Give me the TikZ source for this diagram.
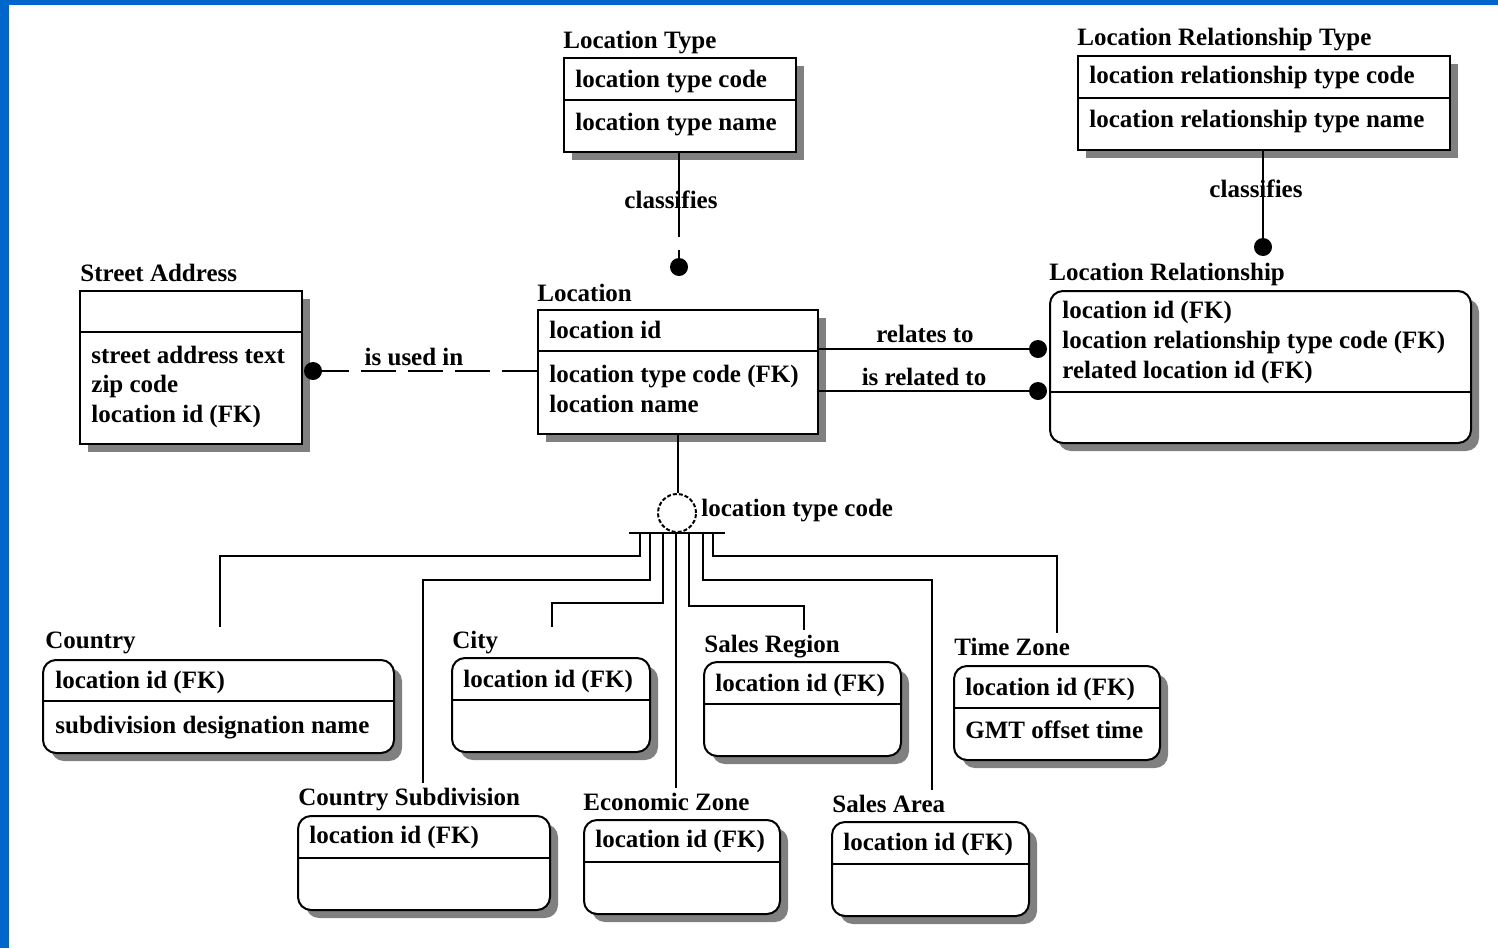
\documentclass[tikz,border=0pt]{standalone}
\usepackage{fontspec}
\setmainfont{Liberation Serif}
\usetikzlibrary{fit}
\definecolor{frameblue}{HTML}{0066CC}
\tikzset{
  erent/.style={draw, line width=1pt, fill=white, inner sep=0pt},
  ershadow/.style={fill=black!50, draw=none},
  erdiv/.style={line width=1pt},
  ertitle/.style={font=\bfseries\fontsize{12.5}{14}\selectfont, inner sep=0pt, anchor=base west},
  erattr/.style={font=\bfseries\fontsize{12.5}{14}\selectfont, inner sep=0pt, anchor=base west},
  rellabel/.style={font=\bfseries\fontsize{12.5}{14}\selectfont, inner sep=0pt, anchor=base},
  link/.style={line width=1pt},
  blob/.style={circle, fill=black, inner sep=0pt, minimum size=9pt},
}
% entity box: name, x1, y1, x2, y2, divider y, corner radius
\newcommand\erbox[7]{%
  \fill[ershadow, rounded corners=#7] ({#2+8},{#3+8}) rectangle ({#4+8},{#5+8});
  \node[erent, rounded corners=#7, fit={(#2,#3) (#4,#5)}] (#1) {};
  \draw[erdiv] (#1.west |- 0,#6) -- (#1.east |- 0,#6);
}
\begin{document}
\begin{tikzpicture}[x=0.5pt, y=-0.5pt]
% page and frame
\fill[white] (0,0) rectangle (1498,948);
\useasboundingbox (0,0) rectangle (1498,948);
\fill[frameblue] (0,0) rectangle (9,948);
\fill[frameblue] (0,0) rectangle (1498,5);

% ---------- entities ----------
% Location Type
\erbox{lt}{564}{58}{796}{152}{100}{0pt}
\node[ertitle] (tLT) at (563,48) {Location Type};
\node[erattr] (aLT1) at (575,87) {location type code};
\node[erattr] (aLT2) at (575,130) {location type name};

% Location Relationship Type
\erbox{lrt}{1078}{56}{1450}{150}{98}{0pt}
\node[ertitle] (tLRT) at (1077,45) {Location Relationship Type};
\node[erattr] (aLRT1) at (1089,83) {location relationship type code};
\node[erattr] (aLRT2) at (1089,127) {location relationship type name};

% Street Address
\erbox{sa}{80}{291}{302}{444}{332}{0pt}
\node[ertitle] (tSA) at (80,281) {Street Address};
\node[erattr] (aSA1) at (91,363) {street address text};
\node[erattr] (aSA2) at (91,392) {zip code};
\node[erattr] (aSA3) at (91,422) {location id (FK)};

% Location
\erbox{loc}{538}{310}{818}{434}{351}{0pt}
\node[ertitle] (tLoc) at (537,301) {Location};
\node[erattr] (aLoc1) at (549,338) {location id};
\node[erattr] (aLoc2) at (549,382) {location type code (FK)};
\node[erattr] (aLoc3) at (549,412) {location name};

% Location Relationship
\erbox{lr}{1050}{291}{1471}{443}{392}{6.5pt}
\node[ertitle] (tLR) at (1049,280) {Location Relationship};
\node[erattr] (aLR1) at (1062,318) {location id (FK)};
\node[erattr] (aLR2) at (1062,348) {location relationship type code (FK)};
\node[erattr] (aLR3) at (1062,378) {related location id (FK)};

% subtypes
\erbox{cty}{43}{660}{394}{753}{701}{6.5pt}
\node[ertitle] (tCty) at (45,648) {Country};
\node[erattr] (aCty1) at (55,688) {location id (FK)};
\node[erattr] (aCty2) at (55,733) {subdivision designation name};

\erbox{city}{452}{658}{650}{752}{700}{6.5pt}
\node[ertitle] (tCity) at (452,648) {City};
\node[erattr] (aCity1) at (463,687) {location id (FK)};

\erbox{sr}{704}{662}{901}{756}{704}{6.5pt}
\node[ertitle] (tSR) at (704,652) {Sales Region};
\node[erattr] (aSR1) at (715,691) {location id (FK)};

\erbox{tz}{954}{666}{1160}{760}{708}{6.5pt}
\node[ertitle] (tTZ) at (954,655) {Time Zone};
\node[erattr] (aTZ1) at (965,695) {location id (FK)};
\node[erattr] (aTZ2) at (965,738) {GMT offset time};

\erbox{csub}{298}{816}{550}{910}{858}{6.5pt}
\node[ertitle] (tCsub) at (298,805) {Country Subdivision};
\node[erattr] (aCsub1) at (309,843) {location id (FK)};

\erbox{ez}{584}{820}{780}{914}{862}{6.5pt}
\node[ertitle] (tEZ) at (583,810) {Economic Zone};
\node[erattr] (aEZ1) at (595,847) {location id (FK)};

\erbox{sar}{832}{822}{1029}{916}{864}{6.5pt}
\node[ertitle] (tSAr) at (832,812) {Sales Area};
\node[erattr] (aSAr1) at (843,850) {location id (FK)};

% ---------- relationships ----------
% Location Type classifies Location
\node[blob] (dLT) at (679,267) {};
\coordinate (gLT1) at (679,237);
\coordinate (gLT2) at (679,250);
\draw[link] (dLT |- lt.south) -- (gLT1);
\draw[link] (gLT2) -- (dLT);
\node[rellabel] (cLT) at (671,208) {classifies};

% Location Relationship Type classifies Location Relationship
\node[blob] (dLRT) at (1263,247) {};
\draw[link] (dLRT |- lrt.south) -- (dLRT);
\node[rellabel] (cLRT) at (1256,197) {classifies};

% Location is used in Street Address
\node[blob] (dSA) at (313,371) {};
\draw[link, dash pattern=on 17.5pt off 6pt] (loc.west |- dSA) -- (dSA);
\node[rellabel] (cSA) at (414,365) {is used in};

% Location relates to / is related to Location Relationship
\node[blob] (dR1) at (1038,349) {};
\node[blob] (dR2) at (1038,391) {};
\draw[link] (loc.east |- dR1) -- (dR1);
\draw[link] (loc.east |- dR2) -- (dR2);
\node[rellabel] (cR1) at (925,342) {relates to};
\node[rellabel] (cR2) at (924,385) {is related to};

% ---------- subtype category ----------
\node[circle, draw, line width=1pt, dash pattern=on 2pt off 1pt, fill=white,
      minimum size=19pt, inner sep=0pt] (cat) at (677,513) {};
\draw[link] (cat.north -| loc.south) -- (loc.south);
\node[erattr] (catL) at (701,516) {location type code};
\coordinate (barL) at (629,533);
\coordinate (barR) at (725,533);
\draw[link] (barL) -- (barR);

\coordinate (k1) at (640,533); \coordinate (j1) at (220,556);  \coordinate (e1) at (220,627);
\coordinate (k2) at (650,533); \coordinate (j2) at (423,580);  \coordinate (e2) at (423,783);
\coordinate (k3) at (663,533); \coordinate (j3) at (552,603);  \coordinate (e3) at (552,627);
\coordinate (k4) at (676,533); \coordinate (e4) at (676,788);
\coordinate (k5) at (689,533); \coordinate (j5) at (804,606);  \coordinate (e5) at (804,630);
\coordinate (k6) at (703,533); \coordinate (j6) at (932,580);  \coordinate (e6) at (932,790);
\coordinate (k7) at (713,533); \coordinate (j7) at (1057,556); \coordinate (e7) at (1057,633);

\draw[link] (k1) |- (j1) -- (e1);
\draw[link] (k2) |- (j2) -- (e2);
\draw[link] (k3) |- (j3) -- (e3);
\draw[link] (k4) -- (e4);
\draw[link] (k5) |- (j5) -- (e5);
\draw[link] (k6) |- (j6) -- (e6);
\draw[link] (k7) |- (j7) -- (e7);
\end{tikzpicture}
\end{document}
